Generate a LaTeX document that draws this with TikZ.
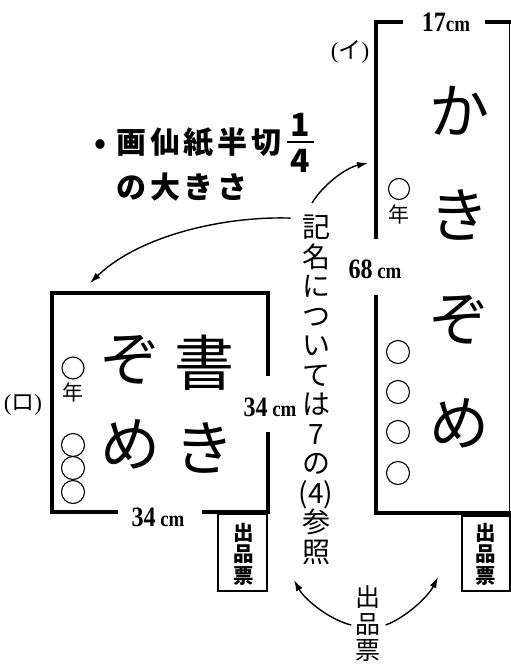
\documentclass[tikz,border=0pt]{standalone}
\usepackage{fontspec}
\setmainfont{Liberation Serif}
\newfontfamily\jp{Noto Sans CJK JP}
\newfontfamily\num[FakeStretch=0.86]{Liberation Serif}
\usetikzlibrary{arrows.meta}

\begin{document}
\begin{tikzpicture}[x=1pt,y=-1pt,>={Latex[length=11pt,width=7pt]},
 every node/.style={inner sep=0pt},
 paper/.style={line width=3.2pt},
 tag/.style={line width=1.3pt},
 arr/.style={->,line width=1.4pt},
 big/.style={font=\jp\fontsize{60}{#1}\selectfont,align=center},
 small/.style={font=\jp\fontsize{21}{21}\selectfont},
 tagtext/.style={font=\jp\bfseries\fontsize{20.5}{21.5}\selectfont,align=center},
 cmtext/.style={font=\num\bfseries\fontsize{28}{28}\selectfont},
 label/.style={anchor=west,font=\jp\bfseries\fontsize{30}{30}\selectfont\addfontfeature{LetterSpace=13}},
 note/.style={font=\jp\fontsize{28}{29.5}\selectfont,align=center}]
 \useasboundingbox (0,0) rectangle (511,664);

 % (i) tall paper
 \draw[paper] (403,22) -- (376,22) -- (376,239);
 \draw[paper] (376,295) -- (376,513) -- (511,513);
 \draw[paper] (485,22) -- (511,22);
 \draw[line width=1.5pt] (509.5,22) -- (509.5,513);
 \draw[tag] (462,516) rectangle (510,591);

 % (ro) square paper
 \draw[paper] (118,512) -- (52,512) -- (52,293) -- (268,293) -- (268,376);
 \draw[paper] (268,432) -- (268,512) -- (202,512);
 \draw[tag] (218,514) rectangle (267,591);

 % name circles
 \draw[line width=1.1pt] (399,189) circle (10.5);
 \foreach \y in {352,392,432,473}
  \draw[line width=1.1pt] (398,\y) circle (11.5);
 \draw[line width=1.1pt] (73,368) circle (11);
 \foreach \y in {445,468,492}
  \draw[line width=1.1pt] (73,\y) circle (11.5);

 \node[small] (nenI) at (399,214) {年};
 \node[small] (nenRo) at (73,392) {年};

 \node[big=104] (kakiI) at (459,267) {か\\き\\ぞ\\め};
 \node[big=85] (shoRo) at (204,404) {書\\き};
 \node[big=85] (zomeRo) at (130,402) {ぞ\\め};

 \node[font=\fontsize{23}{23}\selectfont] (nameI) at (350,52) {({\jp イ})};
 \node[font=\fontsize{23}{23}\selectfont] (nameRo) at (23,405) {({\jp ロ})};

 \node[cmtext] (wI) at (446,22) {17{\fontsize{22}{22}\selectfont cm}};
 \node[cmtext] (hI) at (375,269) {68\,{\fontsize{22}{22}\selectfont cm}};
 \node[cmtext] (wRo) at (158,517) {34\,{\fontsize{22}{22}\selectfont cm}};
 \node[cmtext] (hRo) at (270,407) {34\,{\fontsize{22}{22}\selectfont cm}};

 \node[tagtext] (tagI) at (486,554) {出\\品\\票};
 \node[tagtext] (tagRo) at (244,554) {出\\品\\票};

 \node[label] (size) at (94,143) {•\hspace{10pt}画仙紙半切};
 \node[font=\jp\bfseries\fontsize{32}{6.5}\selectfont,align=center] (frac) at (300,143)
  {1\\\rule{27pt}{1.5pt}\\[6pt]4};
 \node[label] (size2) at (116,187) {の大きさ};

 \node[note] (kimei) at (316,390) {記\\名\\に\\つ\\い\\て\\は\\7\\の\\(4)\\参\\照};
 \node[font=\jp\fontsize{25}{26.5}\selectfont,align=center] (hyo) at (368,624) {出\\品\\票};

 % arrows
 \coordinate (tipI) at (368,163);
 \coordinate (tipRo) at (90,283);
 \coordinate (tipTagRo) at (294,580);
 \coordinate (tipTagI) at (438,577);
 \draw[arr] ([shift={(-4,-12)}]kimei.north) .. controls (322,186) and (345,168) .. (tipI);
 \draw[arr] ([shift={(-8,3)}]kimei.north west) .. controls (225,216) and (140,235) .. (tipRo);
 \draw[arr] ([shift={(-4,1)}]hyo.west) .. controls (330,620) and (305,600) .. (tipTagRo);
 \draw[arr] ([shift={(5,1)}]hyo.east) .. controls (405,618) and (428,597) .. (tipTagI);
\end{tikzpicture}
\end{document}
